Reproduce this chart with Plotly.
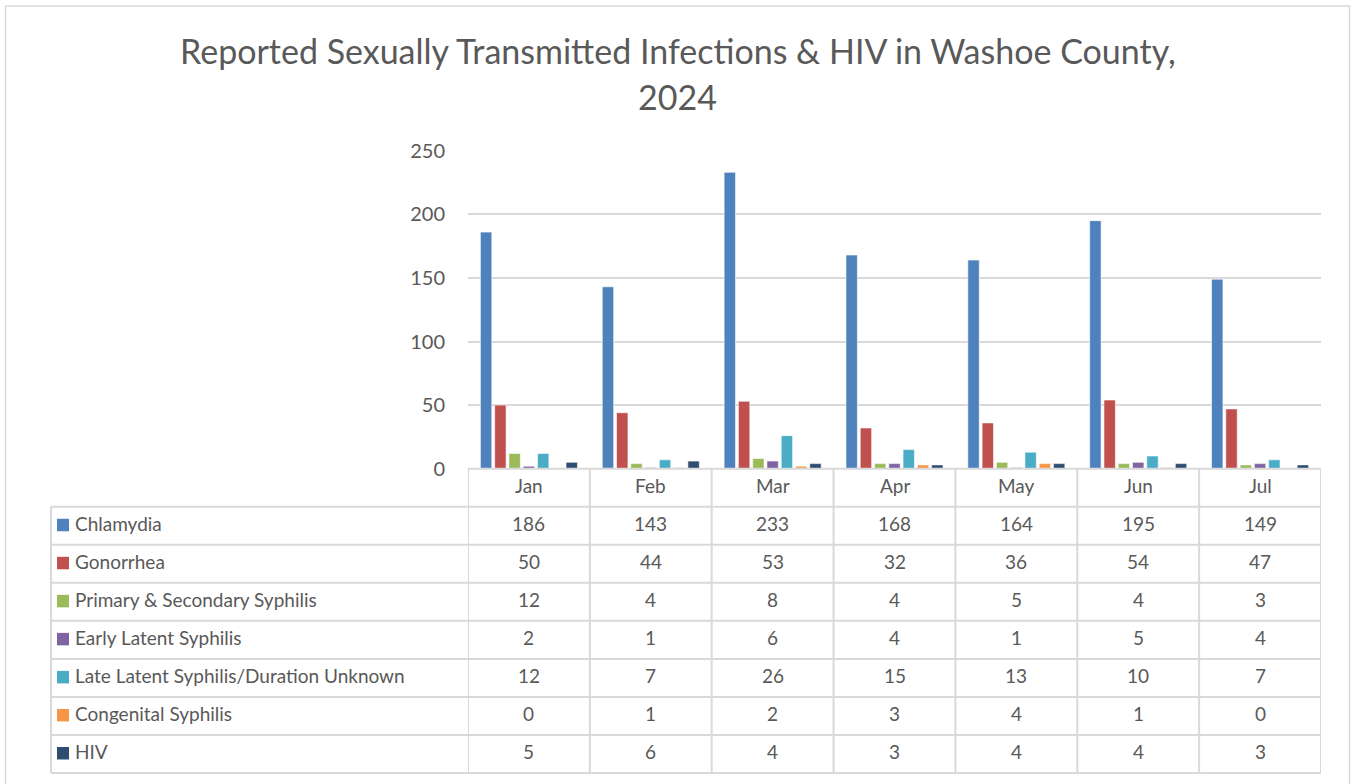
import plotly.graph_objects as go

months = ["Jan", "Feb", "Mar", "Apr", "May", "Jun", "Jul"]
series_names = [
    "Chlamydia",
    "Gonorrhea",
    "Primary & Secondary Syphilis",
    "Early Latent Syphilis",
    "Late Latent Syphilis/Duration Unknown",
    "Congenital Syphilis",
    "HIV",
]
chlamydia = [186, 143, 233, 168, 164, 195, 149]
gonorrhea = [50, 44, 53, 32, 36, 54, 47]
ps_syphilis = [12, 4, 8, 4, 5, 4, 3]
early_latent = [2, 1, 6, 4, 1, 5, 4]
late_latent = [12, 7, 26, 15, 13, 10, 7]
congenital = [0, 1, 2, 3, 4, 1, 0]
hiv = [5, 6, 4, 3, 4, 4, 3]
series_values = [chlamydia, gonorrhea, ps_syphilis, early_latent, late_latent, congenital, hiv]
colors = ["#4F81BD", "#C0504D", "#9BBB59", "#8064A2", "#4BACC6", "#F79646", "#2F4D71"]
y_ticks = [0, 50, 100, 150, 200, 250]

W, H = 1352, 784
FONT = "Lato"
TXT = "#595959"
GRID = "#D9D9D9"


def px(x):
    return x / W


def py(y):
    return 1 - y / H


# layout geometry (pixels)
plot_left, plot_right = 468, 1321
plot_top, plot_bottom = 150.7, 468.7
table_left = 51
row_h = (773 - plot_bottom) / 8
text_lift = 2

fig = go.Figure()
for name, vals, col in zip(series_names, series_values, colors):
    fig.add_trace(go.Bar(x=months, y=vals, name=name,
                         marker=dict(color=col, line=dict(color="white", width=0.6))))

shapes = []
annotations = []

# outer chart border
shapes.append(dict(type="rect", xref="paper", yref="paper", x0=px(5.5), x1=px(1349.5),
                   y0=py(800), y1=py(6), line=dict(color=GRID, width=1.5), layer="below"))

# table horizontal lines
shapes.append(dict(type="line", xref="paper", yref="paper", x0=px(plot_left), x1=px(plot_right),
                   y0=py(plot_bottom), y1=py(plot_bottom), line=dict(color=GRID, width=2)))
for i in range(1, 9):
    yy = plot_bottom + row_h * i
    shapes.append(dict(type="line", xref="paper", yref="paper", x0=px(table_left), x1=px(plot_right),
                       y0=py(yy), y1=py(yy), line=dict(color=GRID, width=2)))
# left edge of label column
shapes.append(dict(type="line", xref="paper", yref="paper", x0=px(table_left), x1=px(table_left),
                   y0=py(plot_bottom + row_h), y1=py(plot_bottom + 8 * row_h), line=dict(color=GRID, width=2)))
# category boundaries
for k in range(len(months) + 1):
    shapes.append(dict(type="line", xref="x", yref="paper", x0=k - 0.5, x1=k - 0.5,
                       y0=py(plot_bottom), y1=py(plot_bottom + 8 * row_h), line=dict(color=GRID, width=2)))

# header (month names)
for m in months:
    annotations.append(dict(xref="x", yref="paper", x=m, y=py(plot_bottom + row_h * 0.5 - text_lift),
                            text=m, showarrow=False, font=dict(family=FONT, size=19, color=TXT),
                            xanchor="center", yanchor="middle"))
# rows
for r, (name, vals, col) in enumerate(zip(series_names, series_values, colors)):
    yc = plot_bottom + row_h * (r + 1.5)
    shapes.append(dict(type="rect", xref="paper", yref="paper", x0=px(57), x1=px(69),
                       y0=py(yc + 5.5), y1=py(yc - 7), fillcolor=col, line=dict(width=0)))
    annotations.append(dict(xref="paper", yref="paper", x=px(73), y=py(yc - text_lift), text=name,
                            showarrow=False, font=dict(family=FONT, size=19, color=TXT),
                            xanchor="left", yanchor="middle"))
    for m, v in zip(months, vals):
        annotations.append(dict(xref="x", yref="paper", x=m, y=py(yc - text_lift), text=str(v),
                                showarrow=False, font=dict(family=FONT, size=19, color=TXT),
                                xanchor="center", yanchor="middle"))

# title
annotations.append(dict(xref="paper", yref="paper", x=px(678), y=py(50),
                        text="Reported Sexually Transmitted Infections & HIV in Washoe County,",
                        showarrow=False, font=dict(family=FONT, size=34, color=TXT),
                        xanchor="center", yanchor="middle"))
annotations.append(dict(xref="paper", yref="paper", x=px(678), y=py(97), text="2024",
                        showarrow=False, font=dict(family=FONT, size=34, color=TXT),
                        xanchor="center", yanchor="middle"))

fig.update_layout(
    width=W, height=H,
    margin=dict(l=0, r=0, t=0, b=0, autoexpand=False),
    paper_bgcolor="white", plot_bgcolor="white",
    barmode="group", bargap=0.18, bargroupgap=0.2,
    showlegend=False,
    shapes=shapes, annotations=annotations,
    xaxis=dict(domain=[px(plot_left), px(plot_right)], showticklabels=False, showgrid=False,
               zeroline=False, showline=False, ticks="", range=[-0.5, len(months) - 0.5],
               automargin=False),
    yaxis=dict(domain=[py(plot_bottom), py(plot_top)], range=[0, 250], tickvals=y_ticks,
               showgrid=True, gridcolor=GRID, gridwidth=2, zeroline=False, showline=False,
               ticks="", ticklabelstandoff=22, automargin=False,
               tickfont=dict(family=FONT, size=20, color=TXT)),
)

fig.write_html("out.html", config={"displayModeBar": False},
               post_script="document.body.style.margin='0';")
